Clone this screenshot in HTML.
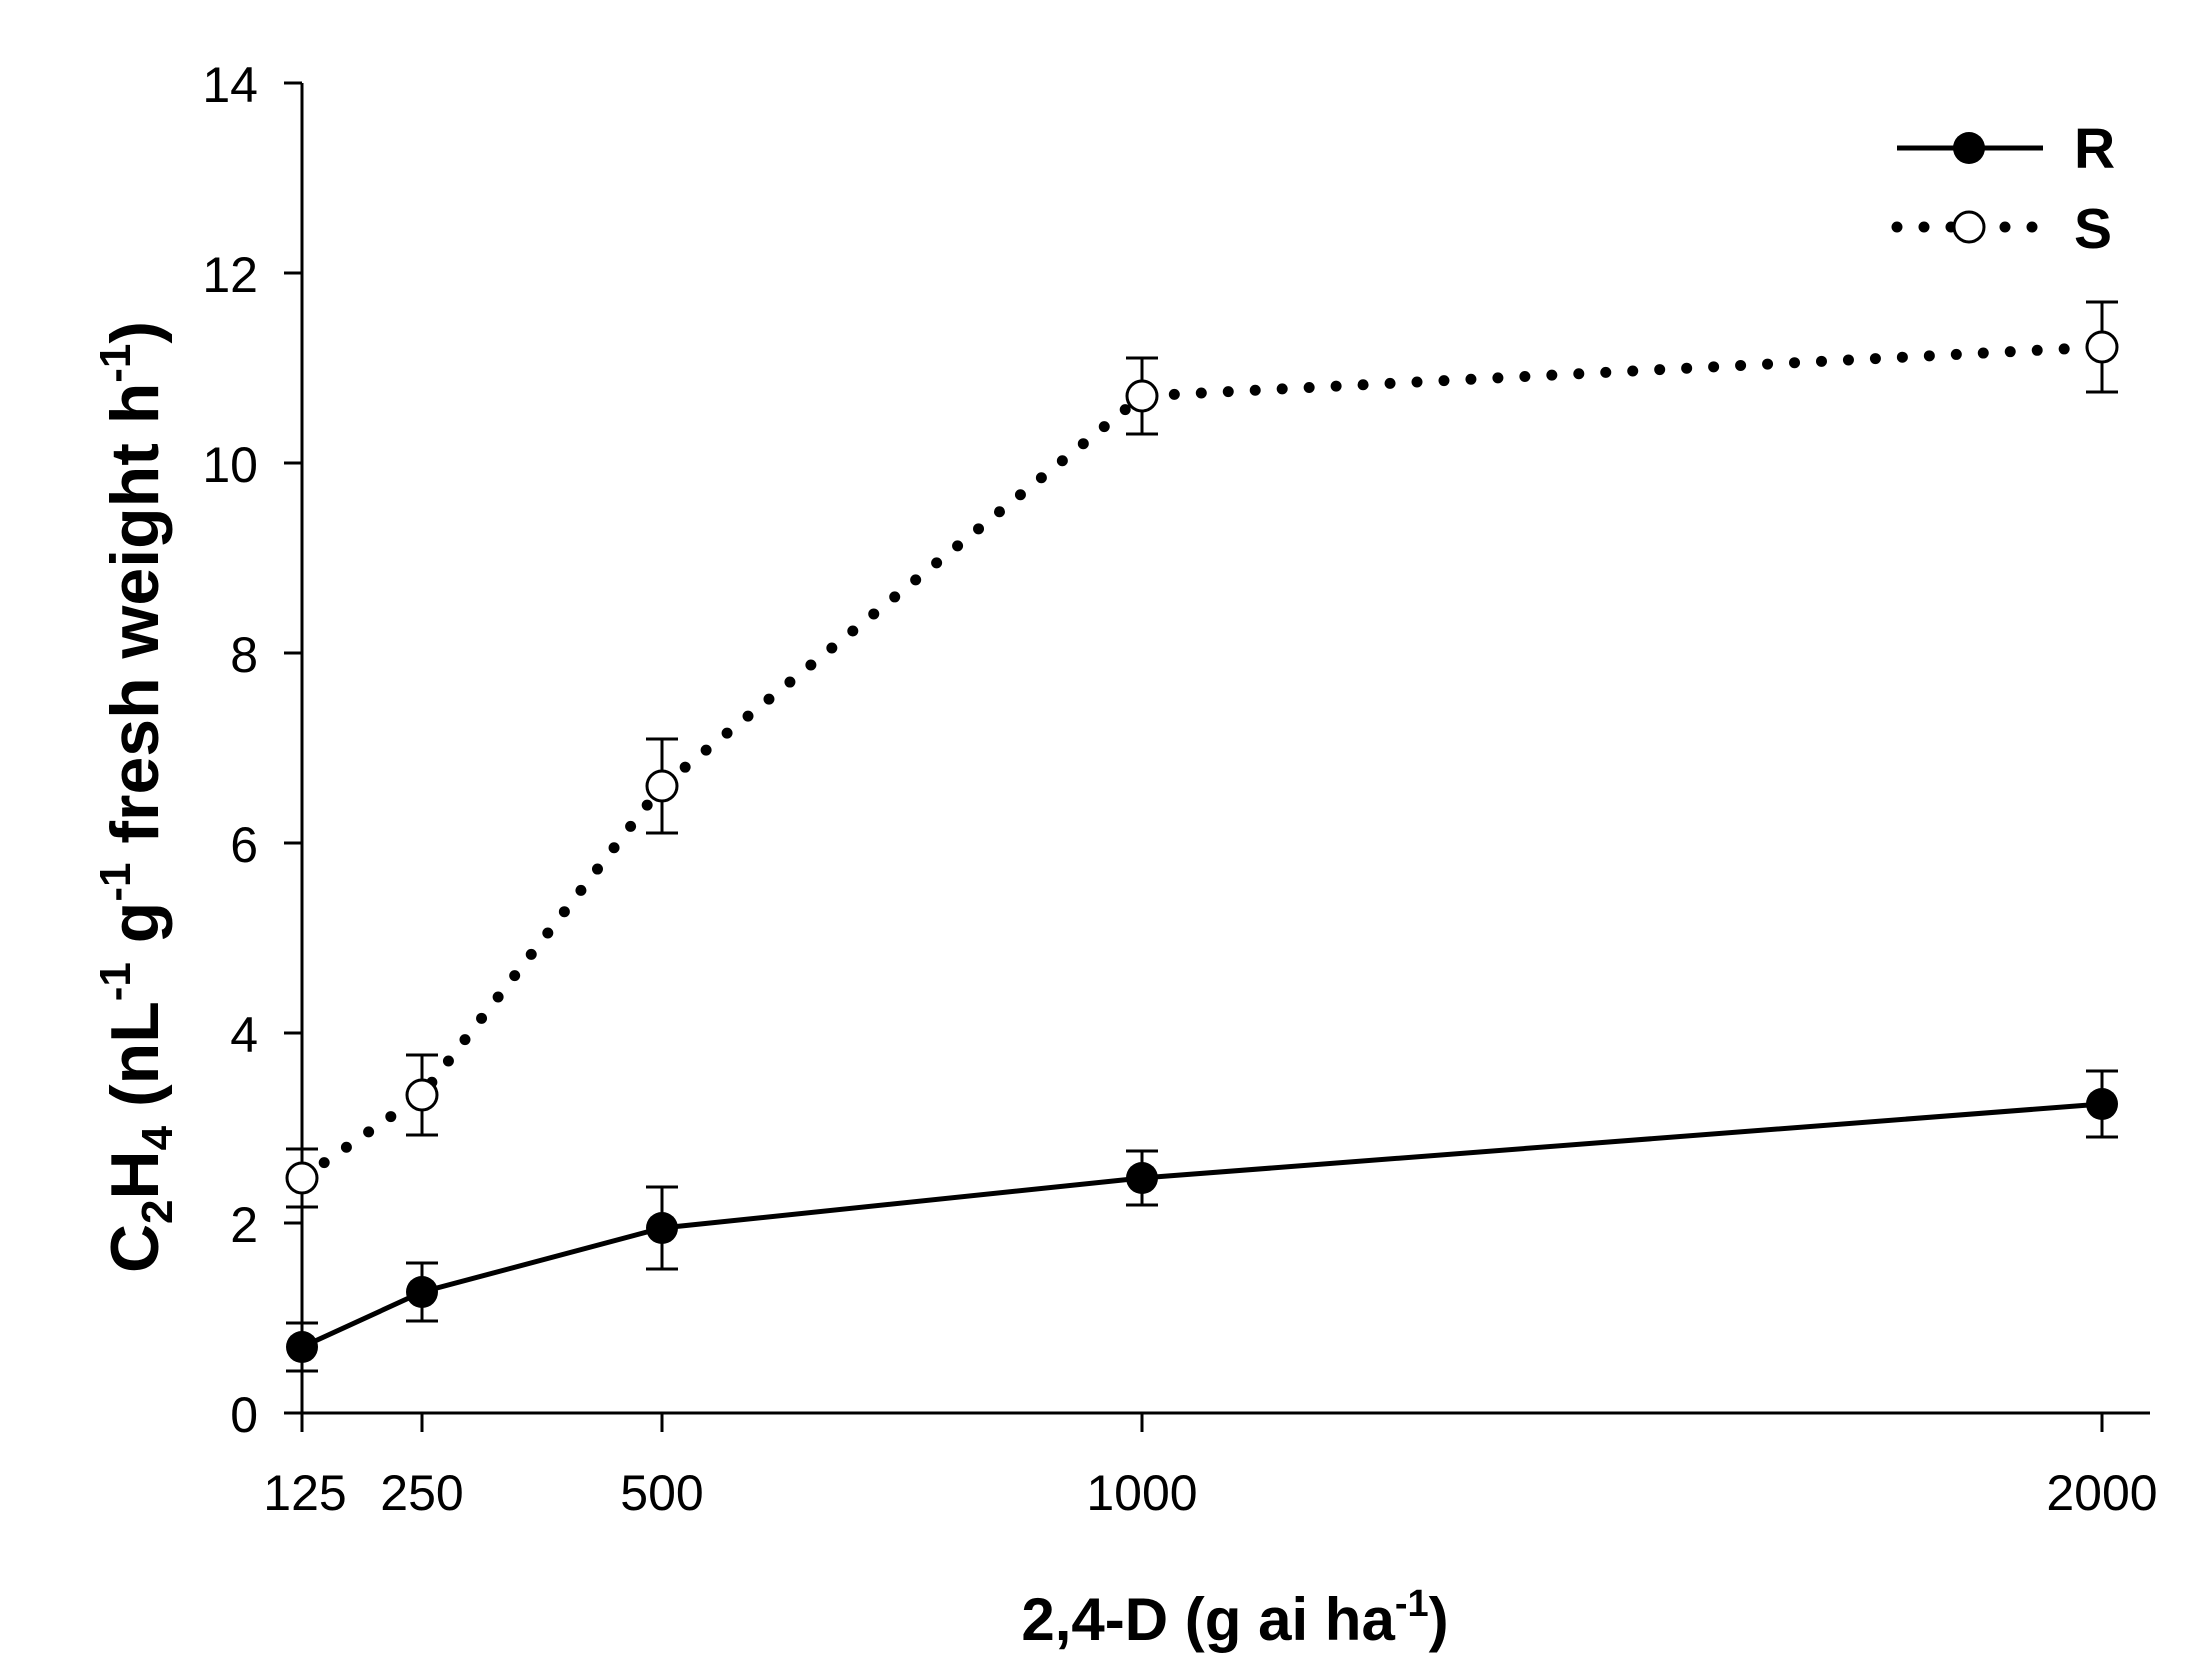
<!DOCTYPE html>
<html><head><style>body{margin:0;background:#fff}</style></head><body>
<svg width="2209" height="1675" xmlns="http://www.w3.org/2000/svg" font-family="Liberation Sans, Arial, sans-serif">
<rect width="2209" height="1675" fill="#fff"/>
<g stroke="#000" stroke-width="3" fill="none">
<line x1="302" y1="83" x2="302" y2="1432"/>
<line x1="284" y1="1413" x2="2150" y2="1413"/>
<line x1="284" y1="83" x2="302" y2="83"/>
<line x1="284" y1="273" x2="302" y2="273"/>
<line x1="284" y1="463" x2="302" y2="463"/>
<line x1="284" y1="653" x2="302" y2="653"/>
<line x1="284" y1="843" x2="302" y2="843"/>
<line x1="284" y1="1033" x2="302" y2="1033"/>
<line x1="284" y1="1223" x2="302" y2="1223"/>
<line x1="422" y1="1413" x2="422" y2="1432"/>
<line x1="662" y1="1413" x2="662" y2="1432"/>
<line x1="1142" y1="1413" x2="1142" y2="1432"/>
<line x1="2102" y1="1413" x2="2102" y2="1432"/>
</g>
<g font-size="50" text-anchor="end">
<text x="258" y="102">14</text><text x="258" y="292">12</text><text x="258" y="482">10</text>
<text x="258" y="672">8</text><text x="258" y="862">6</text><text x="258" y="1052">4</text>
<text x="258" y="1242">2</text><text x="258" y="1432">0</text>
</g>
<g font-size="50" text-anchor="middle" textLength="">
<text x="305" y="1510">125</text><text x="422" y="1510">250</text><text x="662" y="1510">500</text>
<text x="1142" y="1510">1000</text><text x="2102" y="1510">2000</text>
</g>
<text x="1235" y="1640" font-size="60" font-weight="bold" text-anchor="middle">2,4-D (g ai ha<tspan font-size="38" dy="-24">-1</tspan><tspan dy="24">)</tspan></text>
<text transform="translate(158,797) rotate(-90)" font-size="68" font-weight="bold" text-anchor="middle">C<tspan font-size="44" dy="14">2</tspan><tspan dy="-14">H</tspan><tspan font-size="44" dy="14">4</tspan><tspan dy="-14"> (nL</tspan><tspan font-size="44" dy="-28">-1</tspan><tspan dy="28"> g</tspan><tspan font-size="44" dy="-28">-1</tspan><tspan dy="28"> fresh weight h</tspan><tspan font-size="44" dy="-28">-1</tspan><tspan dy="28">)</tspan></text>
<polyline points="302,1178 422,1095 662,786 1142,396 2102,347" fill="none" stroke="#000" stroke-width="11" stroke-linecap="round" stroke-dasharray="0 27"/>
<polyline points="302,1347 422,1292 662,1228 1142,1178 2102,1104" fill="none" stroke="#000" stroke-width="5"/>
<g stroke="#000" stroke-width="3">
<path d="M302,1323V1371M286,1323H318M286,1371H318"/>
<path d="M422,1263V1321M406,1263H438M406,1321H438"/>
<path d="M662,1187V1269M646,1187H678M646,1269H678"/>
<path d="M1142,1151V1205M1126,1151H1158M1126,1205H1158"/>
<path d="M2102,1071V1137M2086,1071H2118M2086,1137H2118"/>
<path d="M302,1149V1207M286,1149H318M286,1207H318"/>
<path d="M422,1055V1135M406,1055H438M406,1135H438"/>
<path d="M662,739V833M646,739H678M646,833H678"/>
<path d="M1142,358V434M1126,358H1158M1126,434H1158"/>
<path d="M2102,302V392M2086,302H2118M2086,392H2118"/>
</g>
<g fill="#000"><circle cx="302" cy="1347" r="16"/><circle cx="422" cy="1292" r="16"/><circle cx="662" cy="1228" r="16"/><circle cx="1142" cy="1178" r="16"/><circle cx="2102" cy="1104" r="16"/></g>
<g fill="#fff" stroke="#000" stroke-width="3"><circle cx="302" cy="1178" r="15"/><circle cx="422" cy="1095" r="15"/><circle cx="662" cy="786" r="15"/><circle cx="1142" cy="396" r="15"/><circle cx="2102" cy="347" r="15"/></g>
<line x1="1897" y1="148" x2="2043" y2="148" stroke="#000" stroke-width="5"/>
<circle cx="1969" cy="148" r="16" fill="#000"/>
<text x="2074" y="168" font-size="57" font-weight="bold">R</text>
<line x1="1897" y1="227" x2="2043" y2="227" stroke="#000" stroke-width="11" stroke-linecap="round" stroke-dasharray="0 27"/>
<circle cx="1969" cy="227" r="15" fill="#fff" stroke="#000" stroke-width="3"/>
<text x="2074" y="248" font-size="57" font-weight="bold">S</text>
</svg>
</body></html>
